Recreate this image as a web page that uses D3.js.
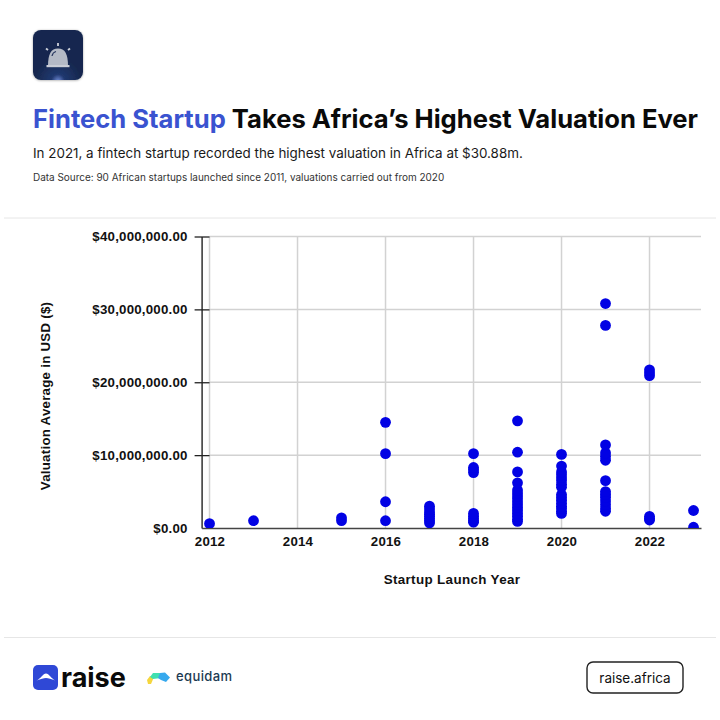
<!DOCTYPE html>
<html>
<head>
<meta charset="utf-8">
<script src="https://cdn.jsdelivr.net/npm/d3@7"></script>
<style>
    html, body { margin: 0; padding: 0; background: #fff; }
    svg { display: block; }
    .axis text { font-family: "Liberation Sans", Arial, sans-serif; font-weight: bold; font-size: 13.3px; letter-spacing: 0.2px; fill: #111; }
    .head { font-family: Inter, sans-serif; }
</style>
</head>
<body>
<script>
// chart values
var years = [2012, 2013, 2015, 2016, 2017, 2018, 2019, 2020, 2021, 2022, 2023];
var valuations = [
    [0.6],
    [1.0],
    [1.0, 1.4],
    [1.0, 3.6, 10.2, 14.5],
    [0.7, 1.0, 1.3, 1.6, 1.9, 2.2, 2.6, 3.0],
    [0.8, 1.0, 1.3, 1.6, 2.0, 7.6, 8.0, 8.3, 10.2],
    [0.9, 1.2, 1.6, 2.0, 2.4, 2.8, 3.2, 3.6, 4.0, 4.4, 4.8, 5.2, 6.2, 7.7, 10.4, 14.7],
    [2.0, 2.3, 2.7, 3.0, 3.4, 3.8, 4.2, 4.6, 5.6, 6.0, 6.5, 6.9, 7.3, 7.7, 8.5, 10.1],
    [2.3, 2.7, 3.2, 3.7, 4.2, 4.6, 5.0, 6.5, 9.3, 9.8, 10.3, 11.4, 27.8, 30.8],
    [1.1, 1.3, 1.6, 20.9, 21.3, 21.7],
    [0.1, 2.4]
];
var xTicks = [2012, 2014, 2016, 2018, 2020, 2022];
var yTicks = [0, 10, 20, 30, 40];

var w = 720, h = 720;

var svg = d3.select("body").append("svg")
    .attr("width", w)
    .attr("height", h);

// flatten to one row per startup
var points = [];
years.forEach(function (yr, i) {
    valuations[i].forEach(function (v) {
        points.push({ year: yr, value: v });
    });
});

var x = d3.scaleLinear().domain([2011.82, 2023.17]).range([201.6, 701]);
var y = d3.scaleLinear().domain([0, 40]).range([528, 236.5]);

// header
svg.append("g").attr("transform", "translate(33,30)").call(drawBell);

var title = svg.append("text")
    .attr("class", "head")
    .attr("x", 33)
    .attr("y", 127.5)
    .attr("font-size", 25.6)
    .attr("font-weight", 700)
    .attr("fill", "#0a0a0a");
title.append("tspan").attr("fill", "#3a53d0").text("Fintech Startup");
title.append("tspan").text(" Takes Africa\u2019s Highest Valuation Ever");

svg.append("text")
    .attr("class", "head")
    .attr("x", 33)
    .attr("y", 158)
    .attr("font-size", 13.4)
    .attr("fill", "#1a1a1a")
    .text("In 2021, a fintech startup recorded the highest valuation in Africa at $30.88m.");

svg.append("text")
    .attr("class", "head")
    .attr("x", 33)
    .attr("y", 181)
    .attr("font-size", 9.96)
    .attr("fill", "#333")
    .text("Data Source: 90 African startups launched since 2011, valuations carried out from 2020");

// separators
svg.selectAll(".sep")
    .data([218, 637.5])
    .enter()
    .append("line")
    .attr("class", "sep")
    .attr("x1", 4)
    .attr("x2", 716)
    .attr("y1", function (d) { return d; })
    .attr("y2", function (d) { return d; })
    .attr("stroke", "#e6e6e6")
    .attr("stroke-width", 1);

// gridlines, these start at the 2012 line
svg.append("g")
    .selectAll(".gridH")
    .data(yTicks.slice(1))
    .enter()
    .append("line")
    .attr("class", "gridH")
    .attr("x1", x(2012))
    .attr("x2", x.range()[1])
    .attr("y1", function (d) { return y(d); })
    .attr("y2", function (d) { return y(d); })
    .attr("stroke", "#d2d2d2")
    .attr("stroke-width", 1.5);

svg.append("g")
    .selectAll(".gridV")
    .data(xTicks)
    .enter()
    .append("line")
    .attr("class", "gridV")
    .attr("x1", function (d) { return x(d); })
    .attr("x2", function (d) { return x(d); })
    .attr("y1", y(40))
    .attr("y2", y(0))
    .attr("stroke", "#d2d2d2")
    .attr("stroke-width", 1.5);

// axes
var yAxis = d3.axisLeft(y)
    .tickValues(yTicks)
    .tickSize(0)
    .tickPadding(14)
    .tickFormat(function (d) { return "$" + d3.format(",.2f")(d * 1000000); });

var gy = svg.append("g")
    .attr("class", "axis")
    .attr("transform", "translate(" + x.range()[0] + ",0)")
    .call(yAxis);
gy.select(".domain").attr("stroke", "#222").attr("stroke-width", 1.4);
gy.selectAll(".tick").filter(function (d) { return d > 0; })
    .append("line")
    .attr("x1", -7)
    .attr("x2", x(2012) - x.range()[0])
    .attr("stroke", "#222")
    .attr("stroke-width", 1.3);

var xAxis = d3.axisBottom(x)
    .tickValues(xTicks)
    .tickSize(0)
    .tickPadding(9)
    .tickFormat(d3.format("d"));

var gx = svg.append("g")
    .attr("class", "axis")
    .attr("transform", "translate(0," + y(0) + ")")
    .call(xAxis);
gx.select(".domain").attr("stroke", "#444").attr("stroke-width", 1.4);

// dots are cut off at the x axis
svg.append("clipPath")
    .attr("id", "plotClip")
    .append("rect")
    .attr("x", x.range()[0])
    .attr("y", y(40) - 6)
    .attr("width", x.range()[1] - x.range()[0])
    .attr("height", y(0) - y(40) + 6);

svg.append("g")
    .attr("clip-path", "url(#plotClip)")
    .selectAll(".dots")
    .data(points)
    .enter()
    .append("circle")
    .attr("class", "dots")
    .attr("cx", function (d) { return x(d.year); })
    .attr("cy", function (d) { return y(d.value); })
    .attr("r", 5.4)
    .attr("fill", "#0202e4");

// axis titles
svg.append("text")
    .attr("x", 452)
    .attr("y", 584)
    .attr("text-anchor", "middle")
    .attr("font-family", "Liberation Sans, Arial, sans-serif")
    .attr("font-weight", "bold")
    .attr("font-size", 13.4)
    .attr("letter-spacing", 0.35)
    .attr("fill", "#111")
    .text("Startup Launch Year");

svg.append("text")
    .attr("transform", "translate(50,396) rotate(-90)")
    .attr("text-anchor", "middle")
    .attr("font-family", "Liberation Sans, Arial, sans-serif")
    .attr("font-weight", "bold")
    .attr("font-size", 13.2)
    .attr("letter-spacing", 0.3)
    .attr("fill", "#111")
    .text("Valuation Average in USD ($)");

// footer
svg.append("g").attr("transform", "translate(33,665)").call(drawRaiseIcon);

svg.append("text")
    .attr("x", 61)
    .attr("y", 686.5)
    .attr("font-family", "Inter, sans-serif")
    .attr("font-weight", 700)
    .attr("font-size", 27)
    .attr("fill", "#0a0a0a")
    .text("raise");

svg.append("g").attr("transform", "translate(147,672)").call(drawEquidamIcon);

svg.append("text")
    .attr("x", 176)
    .attr("y", 681)
    .attr("font-family", "Inter, sans-serif")
    .attr("font-weight", 500)
    .attr("font-size", 13)
    .attr("letter-spacing", 0.4)
    .attr("fill", "#1c3a52")
    .text("equidam");

svg.append("rect")
    .attr("x", 587)
    .attr("y", 662)
    .attr("width", 96)
    .attr("height", 31)
    .attr("rx", 6)
    .attr("fill", "#fff")
    .attr("stroke", "#222")
    .attr("stroke-width", 1.4);

svg.append("text")
    .attr("x", 635)
    .attr("y", 682.5)
    .attr("text-anchor", "middle")
    .attr("font-family", "Inter, sans-serif")
    .attr("font-size", 13.5)
    .attr("fill", "#111")
    .text("raise.africa");

// bell icon top left
function drawBell(g) {
    var defs = svg.append("defs");
    var grad = defs.append("radialGradient")
        .attr("id", "bellGlow")
        .attr("cx", "50%").attr("cy", "102%").attr("r", "45%");
    grad.append("stop").attr("offset", "0%").attr("stop-color", "#6f8bd6");
    grad.append("stop").attr("offset", "30%").attr("stop-color", "#20386f");
    grad.append("stop").attr("offset", "100%").attr("stop-color", "#17284f");

    var shadow = defs.append("filter").attr("id", "bellShadow")
        .attr("x", "-20%").attr("y", "-20%").attr("width", "140%").attr("height", "140%");
    shadow.append("feDropShadow")
        .attr("dx", 0).attr("dy", 0.5).attr("stdDeviation", 1)
        .attr("flood-color", "#000").attr("flood-opacity", 0.35);

    g.append("rect")
        .attr("width", 50).attr("height", 50).attr("rx", 8)
        .attr("fill", "url(#bellGlow)")
        .attr("filter", "url(#bellShadow)");
    g.append("path")
        .attr("d", "M15 36 C15 24 18 18.5 25 18.5 C32 18.5 35 24 35 36 Z")
        .attr("fill", "#b4bac6");
    g.append("rect")
        .attr("x", 13.5).attr("y", 35).attr("width", 23).attr("height", 2.2)
        .attr("fill", "#c9cdd6");
    g.append("path")
        .attr("d", "M19 26 C19.5 23.5 21 22 23 21.5")
        .attr("fill", "none")
        .attr("stroke", "#26365f")
        .attr("stroke-width", 1.2);
    g.selectAll(".ray")
        .data(["M25 16 V13", "M15 20 L13 18.5", "M35 20 L37 18.5"])
        .enter()
        .append("path")
        .attr("class", "ray")
        .attr("d", function (d) { return d; })
        .attr("stroke", "#cdd1da")
        .attr("stroke-width", 1.8);
}

// raise logo mark
function drawRaiseIcon(g) {
    g.append("rect")
        .attr("width", 25).attr("height", 25).attr("rx", 5)
        .attr("fill", "#2f48d6");
    g.append("path")
        .attr("d", "M3.5 15.5 C8 13.5 10 8.5 13 8.5 C16 8.5 18 13.5 22.5 15.5 C18 14 15.5 13 13 13 C10.5 13 8 14 3.5 15.5 Z")
        .attr("fill", "#fff");
}

// equidam logo mark
function drawEquidamIcon(g) {
    g.append("path").attr("d", "M0 8 L3 4 L7 5 L4 12 L1 12 Z").attr("fill", "#f5d63d");
    g.append("path").attr("d", "M3 5 L6 1 L15 1 L14 6 L6 7 Z").attr("fill", "#3fe0b0");
    g.append("path").attr("d", "M13 1 L18 0.5 L23 5.5 L19 10 L14 8 L11 6 Z").attr("fill", "#36a9ee");
}
</script>
</body>
</html>
